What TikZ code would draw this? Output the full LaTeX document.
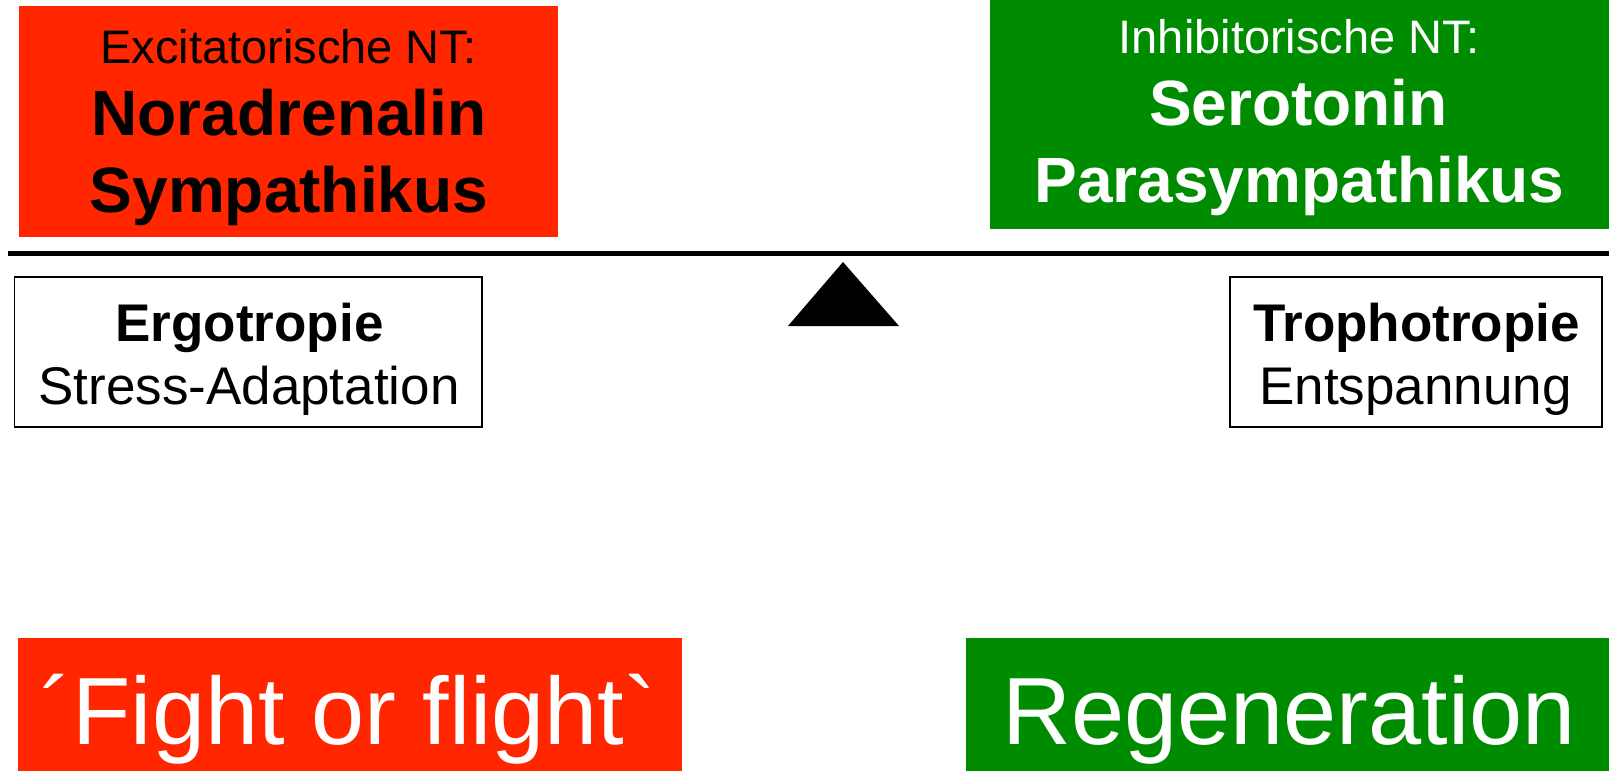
\documentclass[tikz,border=0pt]{standalone}
\usepackage{fontspec}
\newfontfamily\arialf{Liberation Sans}
\definecolor{ntred}{RGB}{255,38,0}
\definecolor{ntgreen}{RGB}{0,140,0}
\tikzset{
  box/.style={rectangle, anchor=north west, inner sep=0pt, outer sep=0pt},
  redbox/.style={box, fill=ntred},
  greenbox/.style={box, fill=ntgreen},
  whitebox/.style={box, draw=black, line width=1.5pt, fill=white},
  txt/.style={anchor=base, inner sep=0pt, outer sep=0pt, font=\arialf},
  small/.style={txt, font=\arialf\fontsize{47}{47}\selectfont},
  big/.style={txt, font=\arialf\bfseries\fontsize{64}{64}\selectfont},
  midb/.style={txt, font=\arialf\bfseries\fontsize{53}{53}\selectfont},
  midr/.style={txt, font=\arialf\fontsize{53}{53}\selectfont},
  huge/.style={txt, font=\arialf\fontsize{95.5}{95.5}\selectfont, text=white},
}
\begin{document}
\begin{tikzpicture}[x=1pt,y=-1pt]
\useasboundingbox (0,0) rectangle (1609,771);
% top boxes
\node[redbox, minimum width=539pt, minimum height=231pt] (exc) at (19,6) {};
\node[greenbox, minimum width=619pt, minimum height=229pt] (inh) at (990,0) {};
\node[small] (excT) at (288.5,63) {Excitatorische NT:};
\node[big] (nor) at (289,135) {Noradrenalin};
\node[big] (sym) at (289,212) {Sympathikus};
\node[small, text=white] (inhT) at (1299,53) {Inhibitorische NT:};
\node[big, text=white] (ser) at (1298.5,125) {Serotonin};
\node[big, text=white] (para) at (1299.5,202) {Parasympathikus};
% balance beam
\coordinate (beamL) at (8,253.5);
\coordinate (beamR) at (1609,253.5);
\draw[line width=5.5pt] (beamL) -- (beamR);
\coordinate (apex) at (843,262);
\coordinate (baseL) at (788,326);
\coordinate (baseR) at (899,326);
\fill[black] (apex) -- (baseR) -- (baseL) -- cycle;
% white boxes
\node[whitebox, minimum width=467.5pt, minimum height=150pt] (ergo) at (14.5,277) {};
\node[whitebox, minimum width=372pt, minimum height=150pt] (troph) at (1230,277) {};
\node[midb] (ergT) at (249.5,341) {Ergotropie};
\node[midr] (stress) at (249,404) {Stress-Adaptation};
\node[midb] (troT) at (1416.5,341) {Trophotropie};
\node[midr] (ents) at (1415.5,404) {Entspannung};
% bottom boxes
\node[redbox, minimum width=664pt, minimum height=133pt] (fight) at (18,638) {};
\node[greenbox, minimum width=643pt, minimum height=133pt] (regen) at (966,638) {};
\node[huge] (fightT) at (348.5,744) {´Fight or flight`};
\node[huge] (regT) at (1289,744) {Regeneration};
\end{tikzpicture}
\end{document}
